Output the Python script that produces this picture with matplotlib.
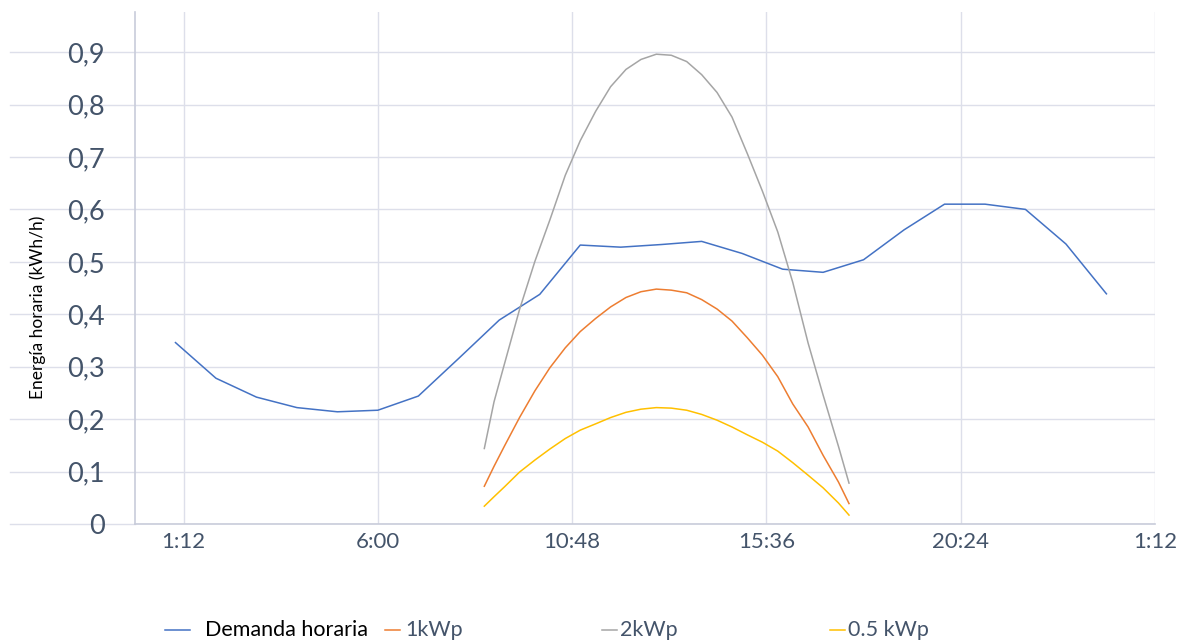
import matplotlib
matplotlib.use("Agg")
import matplotlib.pyplot as plt
from matplotlib.lines import Line2D

plt.rcParams["font.family"] = ["Lato", "DejaVu Sans"]

# hourly demand, hours 1..24
demand_hours = list(range(1, 25))
demand = [0.346, 0.278, 0.242, 0.222, 0.214, 0.217, 0.244, 0.316, 0.389, 0.438,
          0.532, 0.528, 0.533, 0.539, 0.516, 0.486, 0.480, 0.504, 0.561, 0.610,
          0.610, 0.600, 0.534, 0.439]

# PV production (hours of day)
pv_hours = [8.63, 8.87, 9.13, 9.5, 9.88, 10.25, 10.63, 11.0, 11.38, 11.75, 12.13,
            12.5, 12.88, 13.25, 13.63, 14.0, 14.38, 14.75, 15.13, 15.5, 15.88,
            16.25, 16.63, 17.0, 17.38, 17.64]
pv_1kwp = [0.072, 0.110, 0.149, 0.203, 0.254, 0.298, 0.336, 0.367, 0.392, 0.414,
           0.432, 0.443, 0.448, 0.446, 0.441, 0.428, 0.410, 0.387, 0.355, 0.322,
           0.281, 0.229, 0.185, 0.131, 0.080, 0.039]
pv_2kwp = [0.144, 0.233, 0.306, 0.409, 0.501, 0.580, 0.665, 0.731, 0.787, 0.834,
           0.867, 0.886, 0.896, 0.894, 0.882, 0.857, 0.823, 0.776, 0.706, 0.635,
           0.557, 0.461, 0.345, 0.246, 0.148, 0.078]
pv_05kwp = [0.034, 0.052, 0.071, 0.099, 0.122, 0.143, 0.163, 0.179, 0.191, 0.203,
            0.213, 0.219, 0.222, 0.221, 0.217, 0.209, 0.198, 0.185, 0.170, 0.156,
            0.139, 0.117, 0.093, 0.069, 0.040, 0.017]

x_ticks = [1.2, 6.0, 10.8, 15.6, 20.4, 25.2]
x_tick_labels = ["1:12", "6:00", "10:48", "15:36", "20:24", "1:12"]
y_ticks = [0, 0.1, 0.2, 0.3, 0.4, 0.5, 0.6, 0.7, 0.8, 0.9]
y_tick_labels = ["0", "0,1", "0,2", "0,3", "0,4", "0,5", "0,6", "0,7", "0,8", "0,9"]

series_names = ["Demanda horaria", "1kWp", "2kWp", "0.5 kWp"]
colors = ["#4472C4", "#ED7D31", "#A5A5A5", "#FFC000"]
grid_c = "#DDDFEA"
text_c = "#44546A"

W, H = 1184, 642
fig = plt.figure(figsize=(W / 100, H / 100), dpi=100)
ax = fig.add_axes([135 / W, 1 - 524 / H, (1155 - 135) / W, (524 - 12) / H])

ax.plot(demand_hours, demand, color=colors[0], lw=1.1)
ax.plot(pv_hours, pv_1kwp, color=colors[1], lw=1.1)
ax.plot(pv_hours, pv_2kwp, color=colors[2], lw=1.1)
ax.plot(pv_hours, pv_05kwp, color=colors[3], lw=1.1)

ax.set_xlim(0, 25.2)
ax.set_ylim(0, 0.9765)
ax.set_xticks(x_ticks, x_tick_labels)
ax.set_yticks(y_ticks, y_tick_labels)
ax.grid(True, color=grid_c, lw=1.0)
ax.set_axisbelow(True)
for s in ["top", "right"]:
    ax.spines[s].set_visible(False)
for s in ["left", "bottom"]:
    ax.spines[s].set_color("#C8CCDA")
    ax.spines[s].set_linewidth(1.2)
ax.tick_params(axis="both", length=0, colors=text_c)
ax.tick_params(axis="y", labelsize=19.5, pad=22)
ax.tick_params(axis="x", labelsize=16, pad=6)

# gridlines run on into the label margin
for yt in y_ticks:
    ax.plot([-3.1, 0], [yt, yt], color=grid_c, lw=1.0, clip_on=False, zorder=0)

fig.text(38 / W, 1 - 307 / H, "Energía horaria (kWh/h)", rotation=90,
         ha="center", va="center", fontsize=12.5, color="black")

# legend row along the bottom
leg_y = 1 - 630 / H
legend_items = [(165, 190, 205, "black"), (385, 400, 405, text_c),
                (602, 617, 620, text_c), (830, 845, 848, text_c)]
for (x0, x1, xt, tc), name, c in zip(legend_items, series_names, colors):
    fig.add_artist(Line2D([x0 / W, x1 / W], [leg_y, leg_y], color=c, lw=1.1))
    fig.text(xt / W, leg_y, name, ha="left", va="center", fontsize=15.5, color=tc)

fig.savefig("out.png", dpi=100)
